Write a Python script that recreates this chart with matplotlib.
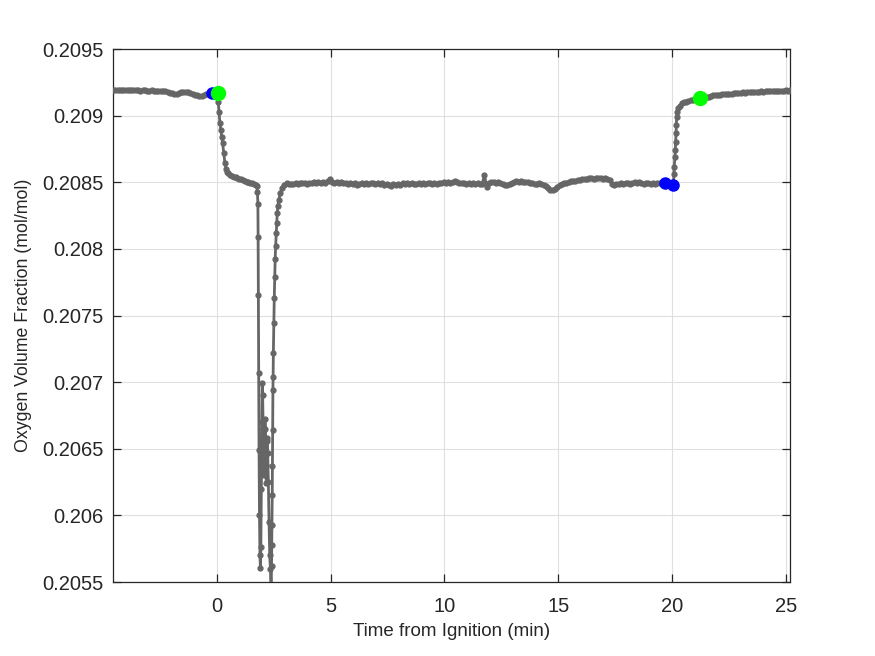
import numpy as np
import matplotlib
matplotlib.use("Agg")
import matplotlib.pyplot as plt
from matplotlib.ticker import FuncFormatter

# pre-ignition baseline, sampled every 0.1 min from -4.57
pre_t0 = -4.57
pre_o2 = [0.209192, 0.209190, 0.209193, 0.209195, 0.209194, 0.209191, 0.209192, 0.209190, 0.209191, 0.209189,
          0.209190, 0.209191, 0.209188, 0.209189, 0.209190, 0.209188, 0.209187, 0.209189, 0.209186, 0.209188,
          0.209187, 0.209185, 0.209186, 0.209184, 0.209178, 0.209172, 0.209168, 0.209165, 0.209163, 0.209170,
          0.209176, 0.209180, 0.209181, 0.209179, 0.209172, 0.209165, 0.209158, 0.209152, 0.209148, 0.209150,
          0.209156, 0.209162, 0.209166, 0.209168, 0.209167, 0.209169]

# ignition drop and the deep dip
dip_t = [0.00, 0.03, 0.06, 0.09, 0.13, 0.17, 0.21, 0.25, 0.30, 0.35, 0.40, 0.45, 0.50, 0.58, 0.66,
         0.74, 0.82, 0.90, 0.98, 1.06, 1.14, 1.22, 1.30, 1.38, 1.46, 1.54, 1.62, 1.70, 1.75,
         1.78, 1.80, 1.81, 1.82, 1.83, 1.85, 1.87, 1.89, 1.91, 1.93, 1.95, 1.97, 1.99, 2.01, 2.03,
         2.05, 2.07, 2.09, 2.11, 2.13, 2.15, 2.17, 2.19, 2.21, 2.23, 2.26, 2.29, 2.32, 2.35, 2.38,
         2.40, 2.41, 2.42, 2.43, 2.44, 2.45, 2.46, 2.47, 2.48, 2.50, 2.52, 2.54, 2.56, 2.58, 2.61,
         2.63, 2.65, 2.68, 2.72, 2.78, 2.86, 2.96, 3.06]
dip_o2 = [0.209170, 0.209140, 0.209105, 0.209030, 0.208945, 0.208890, 0.208840, 0.208795, 0.208720,
          0.208644, 0.208600, 0.208580, 0.208569, 0.208555, 0.208548, 0.208540, 0.208538, 0.208530,
          0.208525, 0.208528, 0.208520, 0.208510, 0.208505, 0.208500, 0.208492, 0.208497, 0.208488,
          0.208480, 0.208470,
          0.208430, 0.208334, 0.208092, 0.207654, 0.207068, 0.206491, 0.206003, 0.205703, 0.205605,
          0.205760, 0.206200, 0.206700, 0.206990, 0.206900, 0.206650, 0.206420, 0.206300, 0.206480,
          0.206720, 0.206650, 0.206380, 0.206240, 0.206560, 0.206580, 0.206470, 0.206250, 0.205950,
          0.205700, 0.205600, 0.205450, 0.205620, 0.205780, 0.205930, 0.206150, 0.206370, 0.206640,
          0.206940, 0.207041, 0.207218, 0.207444, 0.207631, 0.207791, 0.207924, 0.208022, 0.208121,
          0.208194, 0.208272, 0.208322, 0.208367, 0.208417, 0.208455, 0.208480, 0.208492]

# plateau during burn, sampled every 0.1 min from 3.16
mid_t0 = 3.16
mid_o2 = [0.208484, 0.208490, 0.208486, 0.208493, 0.208488, 0.208495, 0.208491, 0.208497, 0.208489, 0.208496,
          0.208492, 0.208499, 0.208494, 0.208501, 0.208496, 0.208502, 0.208498, 0.208510, 0.208528, 0.208500,
          0.208497, 0.208503, 0.208494, 0.208500, 0.208492, 0.208498, 0.208490, 0.208496, 0.208488, 0.208494,
          0.208478, 0.208485, 0.208492, 0.208487, 0.208495, 0.208490, 0.208497, 0.208491, 0.208486, 0.208493,
          0.208489, 0.208495, 0.208482, 0.208488, 0.208478, 0.208470, 0.208484, 0.208479, 0.208488, 0.208483,
          0.208491, 0.208487, 0.208494, 0.208489, 0.208496, 0.208490, 0.208487, 0.208493, 0.208489, 0.208495,
          0.208490, 0.208496, 0.208491, 0.208487, 0.208494, 0.208490, 0.208497, 0.208492, 0.208499, 0.208495,
          0.208501, 0.208496, 0.208504, 0.208510, 0.208503, 0.208497, 0.208491, 0.208494, 0.208488, 0.208493,
          0.208489, 0.208495, 0.208487, 0.208492, 0.208486, 0.208490, 0.208555, 0.208462, 0.208495, 0.208500,
          0.208503, 0.208497, 0.208499, 0.208492, 0.208486, 0.208478, 0.208483, 0.208490, 0.208498, 0.208503,
          0.208506, 0.208502, 0.208507, 0.208504, 0.208500, 0.208505, 0.208498, 0.208492, 0.208486, 0.208490,
          0.208492, 0.208486, 0.208478, 0.208470, 0.208458, 0.208443, 0.208440, 0.208452, 0.208468, 0.208482,
          0.208487, 0.208493, 0.208498, 0.208503, 0.208508, 0.208512, 0.208506, 0.208514, 0.208518, 0.208522,
          0.208526, 0.208521, 0.208529, 0.208533, 0.208527, 0.208535, 0.208530, 0.208534, 0.208528, 0.208532,
          0.208526, 0.208515, 0.208488, 0.208483, 0.208490, 0.208486, 0.208493, 0.208488, 0.208496, 0.208491,
          0.208487, 0.208494, 0.208499, 0.208493, 0.208501, 0.208496, 0.208490, 0.208497, 0.208492, 0.208488,
          0.208495, 0.208490, 0.208498, 0.208493, 0.208496, 0.208492]

# end of burn and recovery
rec_t = [19.76, 19.86, 19.96, 20.06, 20.09, 20.10, 20.13, 20.15, 20.16, 20.18, 20.19, 20.21, 20.24,
         20.28, 20.35, 20.43, 20.52, 20.62, 20.72, 20.82, 20.92, 21.02, 21.12, 21.22]
rec_o2 = [0.208489, 0.208487, 0.208484, 0.208479, 0.208560, 0.208617, 0.208690, 0.208742, 0.208800,
          0.208867, 0.208930, 0.208992, 0.209030, 0.209055, 0.209075, 0.209093, 0.209100, 0.209106,
          0.209112, 0.209117, 0.209120, 0.209124, 0.209127, 0.209130]

# post-test baseline, sampled every 0.1 min from 21.32
post_t0 = 21.32
post_o2 = [0.209134, 0.209137, 0.209140, 0.209142, 0.209148, 0.209152, 0.209155, 0.209153, 0.209158, 0.209161,
           0.209159, 0.209164, 0.209166, 0.209163, 0.209168, 0.209170, 0.209168, 0.209172, 0.209174, 0.209171,
           0.209175, 0.209177, 0.209176, 0.209178, 0.209180, 0.209179, 0.209182, 0.209181, 0.209183, 0.209185,
           0.209183, 0.209186, 0.209185, 0.209187, 0.209186, 0.209188, 0.209187, 0.209189, 0.209188, 0.209190]

# event markers
blue_t = [-0.23, 19.69, 20.06]
blue_o2 = [0.20917, 0.208492, 0.208479]
green_t = [0.05, 21.23]
green_o2 = [0.20917, 0.20913]

step = 0.1
t = np.concatenate([pre_t0 + step * np.arange(len(pre_o2)), dip_t,
                    mid_t0 + step * np.arange(len(mid_o2)), rec_t,
                    post_t0 + step * np.arange(len(post_o2))])
t[-1] = 25.19
o2 = np.concatenate([pre_o2, dip_o2, mid_o2, rec_o2, post_o2])

plt.rcParams['font.family'] = ['Liberation Sans', 'DejaVu Sans']

fig = plt.figure(figsize=(8.75, 6.56), dpi=100)
ax = fig.add_axes([0.1291, 0.1128, 0.7738, 0.8125])

ax.plot(t, o2, '-', color='#666666', lw=2.0, marker='.', ms=7, zorder=3)
ax.plot(blue_t, blue_o2, 'o', color='#0000ff', ms=8, zorder=4)
ax.plot(green_t, green_o2, 'o', color='#00ff00', ms=10, zorder=5)

ax.set_xlim(-4.57, 25.19)
ax.set_ylim(0.2055, 0.2095)
ax.set_xticks([0, 5, 10, 15, 20, 25])
ax.set_yticks(np.arange(0.2055, 0.20951, 0.0005))
ax.yaxis.set_major_formatter(FuncFormatter(lambda v, p: '%g' % round(v, 5)))

ax.grid(True, color='#dfdfdf', lw=0.8)
ax.set_axisbelow(True)
for s in ax.spines.values():
    s.set_color('#262626')
    s.set_linewidth(0.9)
ax.tick_params(direction='in', length=6, width=0.9, colors='#262626',
               top=True, right=True, labelsize=14.5)
ax.tick_params(axis='x', pad=11)
ax.tick_params(axis='y', pad=7)

ax.set_xlabel('Time from Ignition (min)', fontsize=13.5, color='#262626', labelpad=5)
ax.set_ylabel('Oxygen Volume Fraction (mol/mol)', fontsize=12.8, color='#262626', labelpad=7)

fig.savefig('out.png', dpi=100)
